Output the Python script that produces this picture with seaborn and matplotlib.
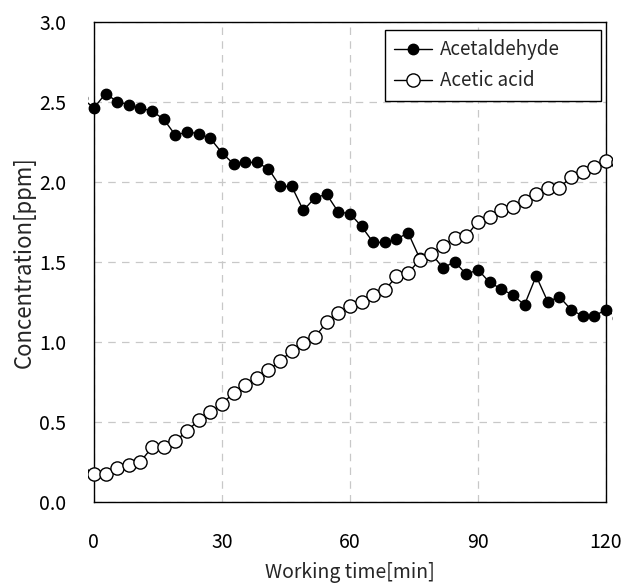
import numpy as np
import pandas as pd
import matplotlib
matplotlib.use("Agg")
import matplotlib.pyplot as plt
import seaborn as sns
from matplotlib.transforms import Bbox, TransformedBbox

# ==============================
# DATI
# ==============================
# tempo di lavoro [min]; il primo e l'ultimo punto cadono fuori dagli assi
working_time = [
    -2.73, 0.0, 2.73, 5.45, 8.18, 10.91, 13.64, 16.36, 19.09, 21.82, 24.55,
    27.27, 30.0, 32.73, 35.45, 38.18, 40.91, 43.64, 46.36, 49.09, 51.82,
    54.55, 57.27, 60.0, 62.73, 65.45, 68.18, 70.91, 73.64, 76.36, 79.09,
    81.82, 84.55, 87.27, 90.0, 92.73, 95.45, 98.18, 100.91, 103.64, 106.36,
    109.09, 111.82, 114.55, 117.27, 120.0, 122.73,
]

acetaldehyde = [
    2.52, 2.46, 2.55, 2.50, 2.48, 2.46, 2.44, 2.39, 2.29, 2.31, 2.30,
    2.27, 2.18, 2.11, 2.12, 2.12, 2.08, 1.97, 1.97, 1.82, 1.90,
    1.92, 1.81, 1.80, 1.72, 1.62, 1.62, 1.64, 1.68, 1.52, 1.55,
    1.46, 1.50, 1.42, 1.45, 1.37, 1.33, 1.29, 1.23, 1.41, 1.25,
    1.28, 1.20, 1.16, 1.16, 1.20, 1.15,
]

acetic_acid = [
    0.18, 0.17, 0.17, 0.21, 0.23, 0.25, 0.34, 0.34, 0.38, 0.44, 0.51,
    0.56, 0.61, 0.68, 0.73, 0.77, 0.82, 0.88, 0.94, 0.99, 1.03,
    1.12, 1.18, 1.22, 1.25, 1.29, 1.32, 1.41, 1.43, 1.51, 1.55,
    1.60, 1.65, 1.66, 1.75, 1.78, 1.82, 1.84, 1.88, 1.92, 1.96,
    1.96, 2.03, 2.06, 2.09, 2.13, 2.12,
]

x_ticks = [0, 30, 60, 90, 120]
y_ticks = [0.0, 0.5, 1.0, 1.5, 2.0, 2.5, 3.0]

df = pd.DataFrame({
    "time": working_time,
    "Acetaldehyde": acetaldehyde,
    "Acetic acid": acetic_acid,
})

# ==============================
# STILE
# ==============================
sns.set_style("white")
plt.rcParams["font.family"] = ["Noto Sans CJK JP", "DejaVu Sans"]

fig, ax = plt.subplots(figsize=(6.26, 5.83), dpi=100)
fig.subplots_adjust(left=0.150, right=0.968, top=0.963, bottom=0.1395)

# ==============================
# GRAFICO
# ==============================
sns.lineplot(
    data=df, x="time", y="Acetaldehyde", ax=ax,
    color="black", linewidth=1.0,
    marker="o", markersize=7.5,
    markerfacecolor="black", markeredgecolor="black", markeredgewidth=1.0,
    label="Acetaldehyde", zorder=3,
)

sns.lineplot(
    data=df, x="time", y="Acetic acid", ax=ax,
    color="black", linewidth=1.0,
    marker="o", markersize=9.5,
    markerfacecolor="white", markeredgecolor="black", markeredgewidth=1.0,
    label="Acetic acid", zorder=4,
)

ax.set_xlim(0, 120)
ax.set_ylim(0, 3.0)
ax.set_xticks(x_ticks)
ax.set_yticks(y_ticks)
ax.set_yticklabels([f"{v:.1f}" for v in y_ticks])

# le linee escono di poco dal riquadro, come nell'originale
clip = TransformedBbox(Bbox([[-0.012, 0.0], [1.012, 1.0]]), ax.transAxes)
for line in ax.lines:
    line.set_clip_box(clip)

ax.grid(True, color="#c8c8c8", linestyle=(0, (6, 5)), linewidth=0.9)
ax.set_axisbelow(True)

for spine in ax.spines.values():
    spine.set_visible(True)
    spine.set_color("black")
    spine.set_linewidth(1.0)

ax.tick_params(axis="both", length=0, labelsize=14, colors="black")
ax.tick_params(axis="x", pad=22)
ax.tick_params(axis="y", pad=20)

ax.set_xlabel("Working time[min]", fontsize=14, labelpad=6)
ax.set_ylabel("Concentration[ppm]", fontsize=16, labelpad=2)

leg = ax.legend(
    loc="upper left", bbox_to_anchor=(0.568, 0.841, 0.422, 0.142),
    mode="expand", borderaxespad=0.0,
    fontsize=13.5, frameon=True, fancybox=False,
    edgecolor="black", framealpha=1.0,
    handlelength=2.0, handletextpad=0.45, labelspacing=0.55,
    borderpad=0.5,
)
leg.get_frame().set_linewidth(1.0)

plt.savefig("out.png", dpi=100)
